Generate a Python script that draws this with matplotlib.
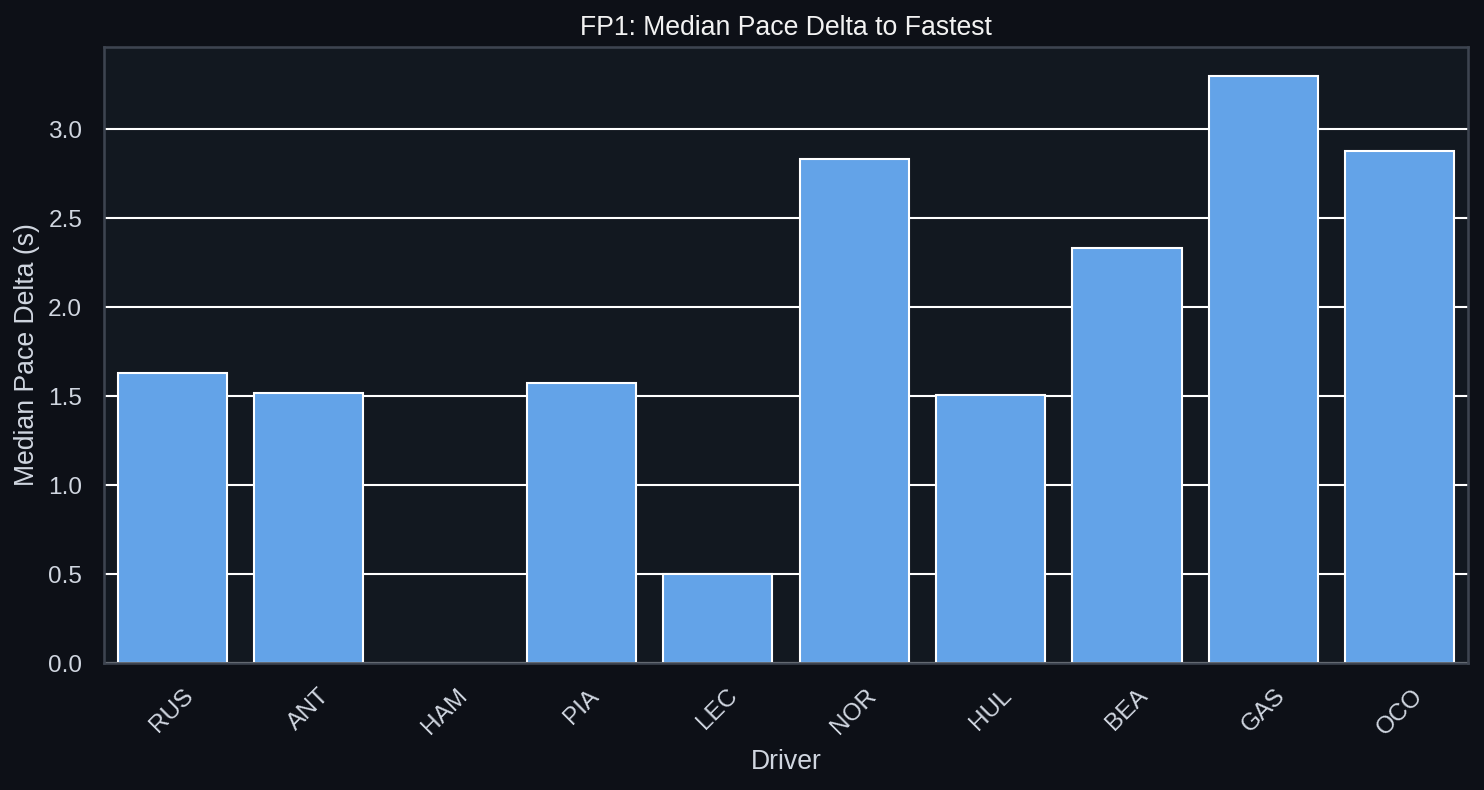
import matplotlib
matplotlib.use('Agg')
import matplotlib.pyplot as plt

drivers = ['RUS', 'ANT', 'HAM', 'PIA', 'LEC', 'NOR', 'HUL', 'BEA', 'GAS', 'OCO']
pace_delta = [1.632, 1.520, 0.0, 1.576, 0.500, 2.836, 1.508, 2.335, 3.298, 2.881]

bg = '#0d1017'
panel = '#121820'
text_col = '#d0d6e0'

plt.rcParams['font.family'] = ['Liberation Sans', 'DejaVu Sans']

fig = plt.figure(figsize=(1484 / 150, 790 / 150), dpi=150, facecolor=bg)
ax = fig.add_axes([104 / 1484, 1 - 663 / 790, (1468 - 104) / 1484, (663 - 47) / 790])
ax.set_facecolor(panel)

ax.grid(axis='y', color='white', linewidth=1.0)
ax.set_axisbelow(True)
ax.bar(range(len(drivers)), pace_delta, width=0.8, color='#63a3e8',
       edgecolor='white', linewidth=1.0)

ax.set_xlim(-0.5, len(drivers) - 0.5)
ax.set_ylim(0, max(pace_delta) * 1.05)
ax.set_xticks(range(len(drivers)))
ax.set_xticklabels(drivers, rotation=45)
ax.tick_params(colors=text_col, labelsize=11.7, length=0)
ax.tick_params(axis='y', pad=10.5)
ax.tick_params(axis='x', pad=10.5)

for s in ax.spines.values():
    s.set_color('#3d4450')
    s.set_linewidth(1.25)

ax.set_title('FP1: Median Pace Delta to Fastest', color='#f2f2f2', fontsize=12.75, pad=5.6)
ax.set_xlabel('Driver', color=text_col, fontsize=12.75, labelpad=4.5)
ax.set_ylabel('Median Pace Delta (s)', color=text_col, fontsize=12.75)

fig.savefig('out.png', dpi=150, facecolor=bg)
